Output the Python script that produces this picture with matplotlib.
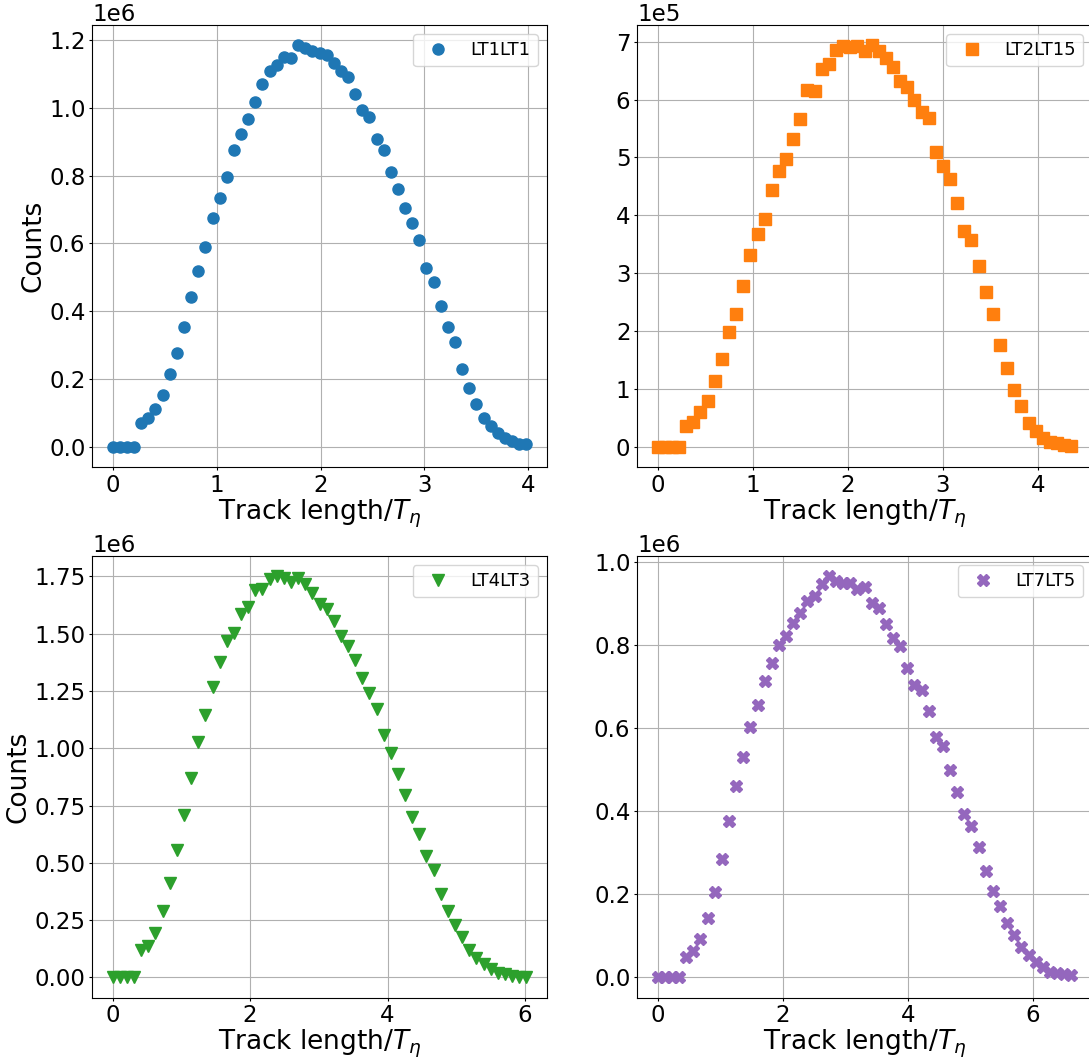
import matplotlib
matplotlib.use("Agg")
import matplotlib.pyplot as plt
from matplotlib.ticker import MultipleLocator
import numpy as np

# counts per bin
lt1lt1 = [0, 0, 0, 0, 0.071, 0.086, 0.112, 0.153, 0.214, 0.276, 0.355, 0.442,
          0.520, 0.589, 0.675, 0.734, 0.796, 0.876, 0.923, 0.968, 1.016, 1.069,
          1.110, 1.125, 1.149, 1.146, 1.185, 1.175, 1.168, 1.163, 1.156, 1.131,
          1.110, 1.091, 1.042, 0.995, 0.973, 0.907, 0.877, 0.812, 0.761, 0.706,
          0.659, 0.610, 0.527, 0.487, 0.417, 0.353, 0.309, 0.229, 0.173, 0.127,
          0.086, 0.061, 0.040, 0.025, 0.016, 0.010, 0.008]
lt2lt15 = [0, 0, 0, 0, 0.36, 0.43, 0.60, 0.80, 1.14, 1.51, 1.98, 2.29, 2.78,
           3.31, 3.68, 3.93, 4.43, 4.76, 4.98, 5.31, 5.67, 6.16, 6.15, 6.53,
           6.61, 6.85, 6.92, 6.90, 6.92, 6.84, 6.94, 6.84, 6.71, 6.57, 6.32,
           6.21, 5.99, 5.78, 5.68, 5.10, 4.85, 4.63, 4.22, 3.73, 3.57, 3.13,
           2.67, 2.29, 1.76, 1.37, 0.99, 0.70, 0.42, 0.28, 0.15, 0.09, 0.06,
           0.03, 0.01]
lt4lt3 = [0, 0, 0, 0, 0.119, 0.138, 0.192, 0.288, 0.410, 0.555, 0.708, 0.868,
          1.028, 1.145, 1.265, 1.378, 1.468, 1.501, 1.584, 1.616, 1.692, 1.696,
          1.737, 1.751, 1.741, 1.727, 1.744, 1.718, 1.679, 1.631, 1.609, 1.555,
          1.490, 1.446, 1.385, 1.305, 1.240, 1.170, 1.058, 0.981, 0.887, 0.796,
          0.702, 0.625, 0.530, 0.468, 0.366, 0.290, 0.229, 0.177, 0.119, 0.084,
          0.058, 0.036, 0.019, 0.014, 0.007, 0.003, 0.001]
lt7lt5 = [0, 0, 0, 0, 0.050, 0.063, 0.092, 0.143, 0.206, 0.284, 0.376, 0.460,
          0.531, 0.601, 0.655, 0.713, 0.757, 0.799, 0.820, 0.853, 0.876, 0.904,
          0.917, 0.947, 0.965, 0.953, 0.949, 0.948, 0.934, 0.938, 0.901, 0.889,
          0.850, 0.815, 0.797, 0.743, 0.704, 0.690, 0.640, 0.577, 0.556, 0.499,
          0.445, 0.394, 0.364, 0.313, 0.257, 0.208, 0.171, 0.130, 0.102, 0.074,
          0.054, 0.038, 0.026, 0.014, 0.011, 0.008, 0.006]

# last bin position of each track length axis
x_max = [3.98, 4.35, 6.02, 6.61]
x_step = [1, 1, 2, 2]
labels = ["LT1LT1", "LT2LT15", "LT4LT3", "LT7LT5"]
scales = [1e6, 1e5, 1e6, 1e6]
series = [lt1lt1, lt2lt15, lt4lt3, lt7lt5]
markers = ["o", "s", "v", "X"]
colors = ["C0", "C1", "C2", "C4"]

plt.rcParams["font.size"] = 16.5
for a in ("xtick", "ytick"):
    plt.rcParams[a + ".major.size"] = 2.2
    plt.rcParams[a + ".major.pad"] = 2.5

fig = plt.figure(figsize=(10.89, 10.63), dpi=100)
W, H = 1089, 1063
boxes = [(92, 25, 547, 467), (637, 25, 1092, 467),
         (92, 556, 547, 997.5), (637, 556, 1092, 997.5)]

for i in range(4):
    l, t, r, b = boxes[i]
    ax = fig.add_axes([l / W, (H - b) / H, (r - l) / W, (b - t) / H])
    y = np.array(series[i]) * scales[i]
    x = np.linspace(0, x_max[i], len(y))
    ax.plot(x, y, linestyle="none", marker=markers[i], color=colors[i],
            markersize=8, label=labels[i])
    ax.grid(True)
    ax.xaxis.set_major_locator(MultipleLocator(x_step[i]))
    ax.ticklabel_format(axis="y", style="sci", scilimits=(0, 0))
    ax.legend(loc="upper right", fontsize=13)
    ax.set_xlabel(r"Track length/$T_\eta$", fontsize=19, labelpad=0.5)
    if i % 2 == 0:
        ax.set_ylabel("Counts", fontsize=19, labelpad=2)

fig.savefig("out.png", dpi=100)
